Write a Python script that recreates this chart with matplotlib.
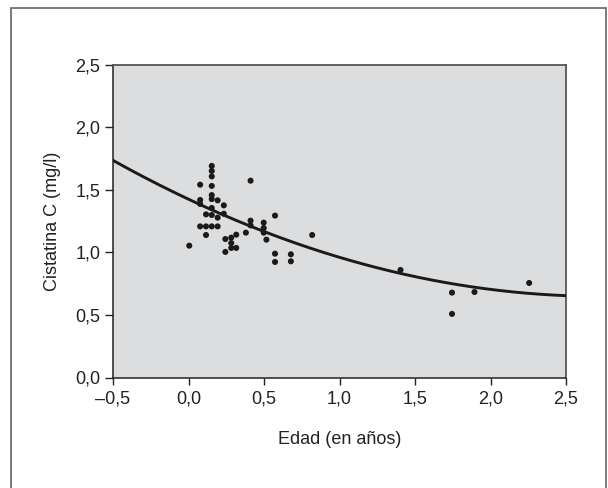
import matplotlib
matplotlib.use("Agg")
import matplotlib.pyplot as plt
import numpy as np
from matplotlib.patches import Rectangle
from matplotlib.ticker import FuncFormatter

# Scatter data (edad en años, cistatina C mg/l)
edad = [0.005, 0.077, 0.077, 0.077, 0.077,
        0.116, 0.116, 0.116,
        0.154, 0.154, 0.154, 0.154, 0.154, 0.154, 0.154, 0.154, 0.154,
        0.193, 0.193, 0.193,
        0.234, 0.234, 0.244, 0.244,
        0.283, 0.283, 0.283, 0.316, 0.316,
        0.380, 0.411, 0.411, 0.411,
        0.498, 0.498, 0.498, 0.516,
        0.573, 0.573, 0.573, 0.678, 0.678,
        0.819, 1.404, 1.745, 1.745, 1.894, 2.256]
cistatina = [1.053, 1.540, 1.418, 1.386, 1.207,
             1.303, 1.207, 1.138,
             1.690, 1.650, 1.606, 1.530, 1.457, 1.425, 1.354, 1.298, 1.207,
             1.415, 1.277, 1.207,
             1.375, 1.308, 1.106, 1.003,
             1.117, 1.074, 1.035, 1.141, 1.035,
             1.157, 1.572, 1.253, 1.215,
             1.237, 1.194, 1.157, 1.101,
             1.293, 0.989, 0.923, 0.984, 0.928,
             1.138, 0.859, 0.678, 0.508, 0.683, 0.755]

# Fitted curve
curve_x = [-0.5, 0.0, 0.5, 1.0, 1.5, 2.0, 2.5]
curve_y = [1.73, 1.43, 1.17, 0.952, 0.806, 0.705, 0.654]

xticks = [-0.5, 0.0, 0.5, 1.0, 1.5, 2.0, 2.5]
yticks = [0.0, 0.5, 1.0, 1.5, 2.0, 2.5]

plt.rcParams['font.family'] = ['Liberation Sans', 'DejaVu Sans']

fig = plt.figure(figsize=(6.08, 4.88), dpi=100)
fig.patch.set_facecolor('white')

# outer frame
frame = Rectangle((11/608, -0.05), (606-11)/608, (488-8)/488 + 0.05,
                  transform=fig.transFigure, fill=False,
                  edgecolor='#707070', linewidth=1.3)
fig.patches.append(frame)

ax = fig.add_axes([113/608, (488-377.5)/488, 453/608, 313/488])
ax.set_facecolor('#dcdddf')

coef = np.polyfit(curve_x, curve_y, 2)
xs = np.linspace(-0.5, 2.5, 300)
ax.plot(xs, np.polyval(coef, xs), color='#1a1a1a', linewidth=2.1, zorder=3)
ax.scatter(edad, cistatina, s=19, color='#1a1a1a', edgecolors='none', zorder=4)

ax.set_xlim(-0.5, 2.5)
ax.set_ylim(0.0, 2.5)
ax.set_xticks(xticks)
ax.set_yticks(yticks)

def fmt(v, pos):
    s = f"{abs(v):.1f}".replace('.', ',')
    return ('\u2013' + s) if v < 0 else s

ax.xaxis.set_major_formatter(FuncFormatter(fmt))
ax.yaxis.set_major_formatter(FuncFormatter(fmt))
ax.tick_params(axis='both', direction='out', labelsize=13, colors='#222222',
               width=1.0)
ax.tick_params(axis='y', length=6, pad=3)
ax.tick_params(axis='x', length=5, pad=4.5)

for side in ['left', 'bottom']:
    ax.spines[side].set_color('#222222')
    ax.spines[side].set_linewidth(1.1)
for side in ['top', 'right']:
    ax.spines[side].set_color('#555555')
    ax.spines[side].set_linewidth(1.3)

ax.set_xlabel('Edad (en años)', fontsize=13, color='#222222', labelpad=17)
ax.set_ylabel('Cistatina C (mg/l)', fontsize=13, color='#222222', labelpad=10)

fig.savefig('out.png', dpi=100)
